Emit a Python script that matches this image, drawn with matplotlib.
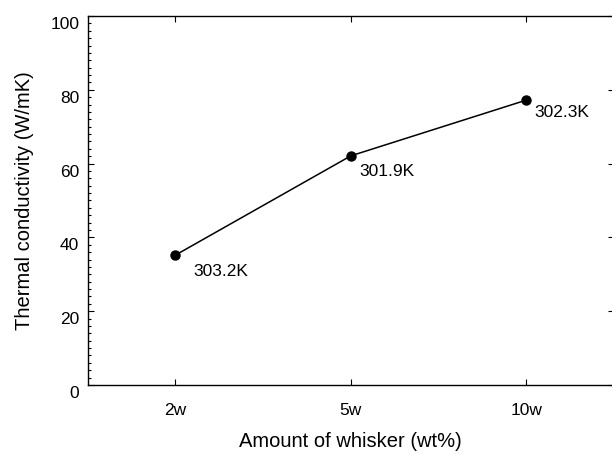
import matplotlib
matplotlib.use("Agg")
import matplotlib.pyplot as plt
from matplotlib.ticker import MultipleLocator
from matplotlib.transforms import ScaledTranslation

# data
categories = ["2w", "5w", "10w"]
conductivity = [35.2, 62.1, 77.2]
temp_labels = ["303.2K", "301.9K", "302.3K"]
label_offsets = [(13, -12), (6, -11), (6, -9)]  # points, relative to each marker

plt.rcParams["font.family"] = ["Liberation Sans", "DejaVu Sans"]

fig = plt.figure(figsize=(6.12, 4.54), dpi=100)
ax = fig.add_axes([0.1433, 0.152, 0.860, 0.8128])

xs = list(range(1, len(categories) + 1))
ax.plot(xs, conductivity, "-", color="black", lw=1.1,
        marker="o", ms=6.5, mfc="black", mec="black")

for x, y, txt, off in zip(xs, conductivity, temp_labels, label_offsets):
    ax.annotate(txt, (x, y), xytext=off, textcoords="offset points",
                ha="left", va="center", fontsize=12.5)

ax.set_xlim(0.5, 3.5)
ax.set_ylim(0, 100)
ax.set_xticks(xs)
ax.set_xticklabels(categories)
ax.yaxis.set_major_locator(MultipleLocator(20))
ax.yaxis.set_minor_locator(MultipleLocator(2))

for s in ax.spines.values():
    s.set_linewidth(1.0)

ax.tick_params(axis="both", which="both", direction="in",
               top=True, right=True, labelsize=12.5, width=0.8)
ax.tick_params(axis="both", which="major", length=4)
ax.tick_params(axis="both", which="minor", length=2.5)
ax.tick_params(axis="y", which="minor", right=False)
ax.tick_params(axis="x", pad=13)
ax.tick_params(axis="y", pad=6)

ax.set_xlabel("Amount of whisker (wt%)", fontsize=14.5, labelpad=10)
ax.set_ylabel("Thermal conductivity (W/mK)", fontsize=14.5, labelpad=12)

# tick labels sit a little low in the original
shift = ScaledTranslation(0, -5 / 72, fig.dpi_scale_trans)
for lab in ax.get_yticklabels():
    lab.set_transform(lab.get_transform() + shift)

fig.savefig("out.png", dpi=100)
